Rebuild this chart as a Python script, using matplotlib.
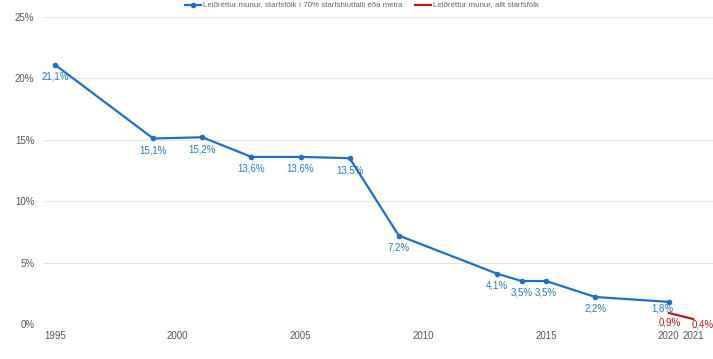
import matplotlib.pyplot as plt
import matplotlib.ticker as mticker

plt.rcParams["font.family"] = ["Liberation Sans", "DejaVu Sans"]

years_full = [1995, 1999, 2001, 2003, 2005, 2007, 2009, 2013, 2014, 2015, 2017, 2020]
gap_full = [21.1, 15.1, 15.2, 13.6, 13.6, 13.5, 7.2, 4.1, 3.5, 3.5, 2.2, 1.8]
years_all = [2020, 2021]
gap_all = [0.9, 0.4]
xticks = [1995, 2000, 2005, 2010, 2015, 2020, 2021]
yticks = [0, 5, 10, 15, 20, 25]

BLUE = "#1f6fc4"
BLUE_TXT = "#2b7bb5"
RED = "#b01c1c"
GREY = "#555555"


def fmt(v):
    return f"{v:.1f}%".replace(".", ",")


fig = plt.figure(figsize=(7.13, 3.59), dpi=100)
ax = fig.add_axes([0.06, 0.0975, 0.94, 0.8555])

ax.plot(years_full, gap_full, color=BLUE, lw=1.6, marker="o", ms=3,
        label="Leiðréttur munur, starfsfólk í 70% starfshlutfalli eða meira")
ax.plot(years_all, gap_all, color=RED, lw=1.6,
        label="Leiðréttur munur, allt starfsfólk")

# value labels under the points
for x, y in zip(years_full, gap_full):
    off = (-4.5, -1.5) if x == 2020 else (0, -5)
    ax.annotate(fmt(y), (x, y), xytext=off, textcoords="offset points",
                ha="center", va="top", fontsize=7, color=BLUE_TXT)
for x, y, off in zip(years_all, gap_all, [(1, -3), (6.5, 0)]):
    ax.annotate(fmt(y), (x, y), xytext=off, textcoords="offset points",
                ha="center", va="top", fontsize=7, color=RED)

ax.set_xlim(1994.5, 2021.8)
ax.set_ylim(0, 25)
ax.set_xticks(xticks)
ax.set_yticks(yticks)
ax.yaxis.set_major_formatter(mticker.FuncFormatter(lambda v, p: f"{v:.0f}%"))
ax.tick_params(length=0, labelsize=7, labelcolor=GREY)
ax.tick_params(axis="x", pad=5)
ax.tick_params(axis="y", pad=6)
ax.grid(axis="y", color="#e4e4e4", lw=0.8)
ax.set_axisbelow(True)
for s in ax.spines.values():
    s.set_visible(False)

fig.legend(loc="upper center", bbox_to_anchor=(0.508, 1.015), ncol=2, frameon=False,
           fontsize=5.7, handlelength=2, columnspacing=1.6, handletextpad=0.3,
           labelcolor="#666666")

fig.savefig("out.png", dpi=100)
